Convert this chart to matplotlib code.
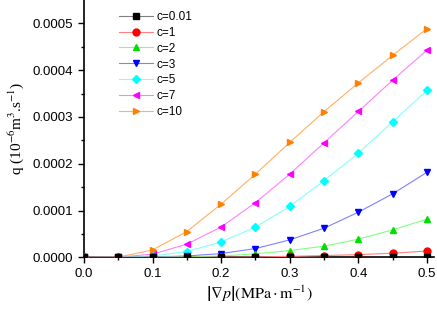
import numpy as np
import matplotlib
matplotlib.use("Agg")
import matplotlib.pyplot as plt

plt.rcParams['font.family'] = ['Liberation Sans', 'DejaVu Sans']
plt.rcParams['mathtext.fontset'] = 'stix'

# pressure gradient |grad p| (MPa/m)
grad_p = [0.0, 0.05, 0.1, 0.15, 0.2, 0.25, 0.3, 0.35, 0.4, 0.45, 0.5]

# flow rate q (1e-6 m^3/s) for each c
q_c001 = [0, 0, 0, 0, 0, 0, 0, 0, 0, 0, 0]
q_c1 = [0, 0, 0, 0.0000002, 0.0000005, 0.000001, 0.0000022, 0.0000039, 0.000006, 0.000009, 0.0000136]
q_c2 = [0, 0, 0.0000002, 0.000001, 0.000003, 0.0000075, 0.0000146, 0.000024, 0.000039, 0.0000589, 0.0000818]
q_c3 = [0, 0, 0.000001, 0.000003, 0.0000082, 0.0000189, 0.0000375, 0.0000625, 0.0000967, 0.000136, 0.000182]
q_c5 = [0, 0, 0.000003, 0.0000124, 0.0000332, 0.0000647, 0.000109, 0.000164, 0.000223, 0.00029, 0.000357]
q_c7 = [0, 0.0000003, 0.000007, 0.0000283, 0.000065, 0.000117, 0.000178, 0.000245, 0.000312, 0.000379, 0.000443]
q_c10 = [0, 0.0000005, 0.000016, 0.0000553, 0.000114, 0.000178, 0.0002458, 0.0003116, 0.000373, 0.000432, 0.000489]

labels = ['c=0.01', 'c=1', 'c=2', 'c=3', 'c=5', 'c=7', 'c=10']
series = [q_c001, q_c1, q_c2, q_c3, q_c5, q_c7, q_c10]
markers = ['s', 'o', '^', 'v', 'D', '<', '>']
colors = ['#000000', '#ff0000', '#00dd00', '#0000ff', '#00ffff', '#ff00ff', '#ff8000']
line_colors = ['#808080', '#ff8080', '#80ff80', '#8080ff', '#80ffff', '#ff80ff', '#ffb060']

fig = plt.figure(figsize=(4.37, 3.09), dpi=100)
ax = fig.add_axes([0.192, 0.167, 0.801, 0.833])

for i in range(len(series)):
    ms = 4.2 if markers[i] in ('D', 's') else 5
    ax.plot(grad_p, series[i], color=line_colors[i], lw=0.8, marker=markers[i],
            markersize=ms, markerfacecolor=colors[i], markeredgecolor=colors[i],
            label=labels[i], zorder=3 + (len(series) - i) * 0.1)

ax.set_xlim(0, 0.51)
ax.set_ylim(0, 0.00055)
ax.set_xticks([0.0, 0.1, 0.2, 0.3, 0.4, 0.5])
ax.set_xticks(np.arange(0.05, 0.51, 0.1), minor=True)
ax.set_yticks([0, 0.0001, 0.0002, 0.0003, 0.0004, 0.0005])
ax.set_yticks(np.arange(0.00005, 0.00055, 0.0001), minor=True)
ax.set_xticklabels(['0.0', '0.1', '0.2', '0.3', '0.4', '0.5'])
ax.set_yticklabels(['0.0000', '0.0001', '0.0002', '0.0003', '0.0004', '0.0005'])
ax.tick_params(which='both', direction='out', labelsize=9.5, width=1)
ax.tick_params(which='major', length=4)
ax.tick_params(which='minor', length=2.5)

for s in ['top', 'right']:
    ax.spines[s].set_visible(False)
for s in ['left', 'bottom']:
    ax.spines[s].set_linewidth(1.2)

ax.set_xlabel(r'$\left|\nabla p\right|(\mathrm{MPa\cdot m^{-1}})$', fontsize=11.5, labelpad=3)
ax.set_ylabel('q (10$^{-6}$m$^{3}$.s$^{-1}$)', fontfamily='Liberation Serif',
              fontsize=11, labelpad=5)

ax.legend(loc='upper left', bbox_to_anchor=(0.078, 0.99), frameon=False, fontsize=8.5,
          handlelength=2.8, handletextpad=0.3, labelspacing=0.33, borderpad=0.2)

fig.savefig('out.png', dpi=100)
